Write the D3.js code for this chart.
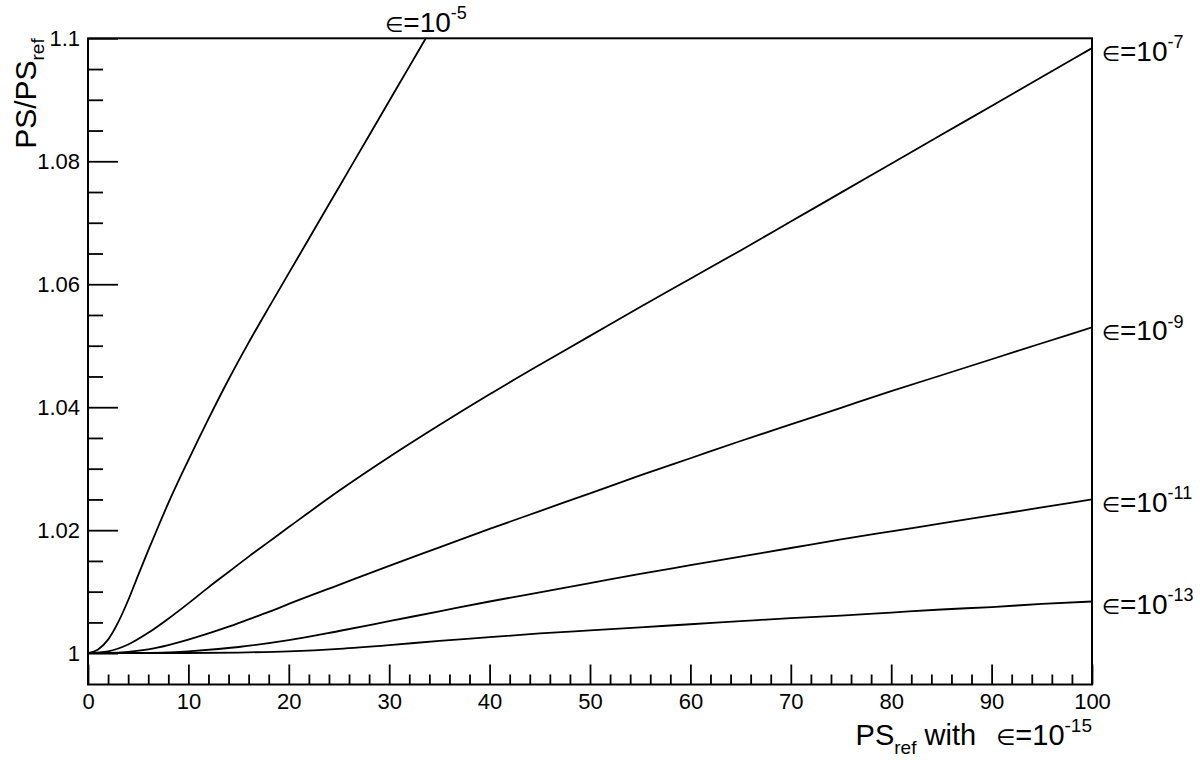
<!DOCTYPE html>
<html>
<head>
<meta charset="utf-8">
<script src="https://cdn.jsdelivr.net/npm/d3@7"></script>
<style>
  html, body { margin: 0; padding: 0; background: #fff; }
  svg { display: block; }
</style>
</head>
<body>
<svg id="chart" width="1200" height="760"></svg>
<script>
// ---- data ----
const xE5  = [0, 1, 2, 3, 4, 5, 6, 7, 8, 10, 12, 14, 16, 18, 20, 22, 24, 26, 28, 30, 32, 34];
const yE5  = [1.0000, 1.0006, 1.0022, 1.0050, 1.0086, 1.0127, 1.0167, 1.0206, 1.0244, 1.0314, 1.0381, 1.0445, 1.0505, 1.0562, 1.0618, 1.0674, 1.0730, 1.0786, 1.0842, 1.0898, 1.0954, 1.1010];

const xE7  = [0, 2, 4, 6, 8, 10, 12, 14, 16, 18, 20, 25, 30, 35, 40, 45, 50, 55, 60, 65, 70, 75, 80, 85, 90, 95, 100];
const yE7  = [1.0000, 1.0003, 1.0014, 1.0033, 1.0056, 1.0081, 1.0107, 1.0132, 1.0157, 1.0181, 1.0205, 1.0264, 1.0319, 1.0371, 1.0421, 1.0469, 1.0516, 1.0563, 1.0609, 1.0655, 1.0702, 1.0749, 1.0796, 1.0843, 1.0890, 1.0937, 1.0984];

const xE9  = [0, 2, 4, 6, 8, 10, 12, 14, 16, 18, 20, 25, 30, 35, 40, 45, 50, 55, 60, 65, 70, 75, 80, 85, 90, 95, 100];
const yE9  = [1.0000, 1.00003, 1.0002, 1.0006, 1.0013, 1.0022, 1.0032, 1.0043, 1.0055, 1.0067, 1.0080, 1.0111, 1.0142, 1.0172, 1.0202, 1.0231, 1.0260, 1.0289, 1.0317, 1.0345, 1.0372, 1.0399, 1.0426, 1.0452, 1.0478, 1.0504, 1.0530];

const xE11 = [0, 5, 10, 15, 20, 25, 30, 35, 40, 45, 50, 55, 60, 65, 70, 75, 80, 85, 90, 95, 100];
const yE11 = [1.0000, 1.00002, 1.0003, 1.0010, 1.0021, 1.0036, 1.0052, 1.0068, 1.0084, 1.0099, 1.0114, 1.0129, 1.0143, 1.0157, 1.0171, 1.0185, 1.0198, 1.0211, 1.0224, 1.0237, 1.0250];

const xE13 = [0, 10, 15, 20, 25, 30, 35, 40, 45, 50, 55, 60, 65, 70, 75, 80, 85, 90, 95, 100];
const yE13 = [1.0000, 1.00002, 1.0001, 1.0003, 1.0007, 1.0013, 1.0020, 1.0026, 1.0032, 1.0037, 1.0042, 1.0047, 1.0052, 1.0057, 1.0061, 1.0066, 1.0071, 1.0075, 1.0080, 1.0084];

const seriesExp = ["-5", "-7", "-9", "-11", "-13"];
const xTickMajor = [0, 10, 20, 30, 40, 50, 60, 70, 80, 90, 100];
const yTickMajor = [1, 1.02, 1.04, 1.06, 1.08, 1.1];
const yTickLabels = ["1", "1.02", "1.04", "1.06", "1.08", "1.1"];

// ---- layout ----
const FONT = "'Liberation Sans', Arial, Helvetica, sans-serif";
const SYM = "'DejaVu Sans', sans-serif";
const svg = d3.select("#chart");
const L = 88, R = 1092, T = 38.3, B = 684.5;

const x = d3.scaleLinear().domain([0, 100]).range([L, R]);
const y = d3.scaleLinear().domain([0.9949, 1.1]).range([B, T]);

svg.append("defs").append("clipPath").attr("id", "plotclip")
  .append("rect").attr("x", L).attr("y", T).attr("width", R - L).attr("height", B - T);

// minor ticks
const xMinor = d3.range(0, 100.01, 2).filter(v => v % 10 !== 0);
const yMinor = d3.range(0, 21).map(i => +(1 + i * 0.005).toFixed(3))
  .filter(v => Math.abs((v - 1) / 0.02 - Math.round((v - 1) / 0.02)) > 1e-6);

svg.append("g").attr("transform", `translate(0,${B})`)
  .call(d3.axisBottom(x).tickValues(xTickMajor).tickSizeInner(-20).tickSizeOuter(0).tickPadding(9).tickFormat(d3.format("d")));
svg.append("g").attr("transform", `translate(0,${B})`)
  .call(d3.axisBottom(x).tickValues(xMinor).tickSizeInner(-10).tickSizeOuter(0).tickFormat(""));

svg.append("g").attr("transform", `translate(${L},0)`)
  .call(d3.axisLeft(y).tickValues(yTickMajor).tickSizeInner(-30).tickSizeOuter(0).tickPadding(8)
    .tickFormat((d, i) => yTickLabels[i]));
svg.append("g").attr("transform", `translate(${L},0)`)
  .call(d3.axisLeft(y).tickValues(yMinor).tickSizeInner(-15).tickSizeOuter(0).tickFormat(""));

svg.selectAll(".domain").remove();
svg.selectAll(".tick line").attr("stroke", "#000").attr("stroke-width", 1.8);
svg.selectAll(".tick text").attr("font-size", 22).attr("font-family", FONT).attr("fill", "#000");

// frame
svg.append("rect").attr("x", L).attr("y", T).attr("width", R - L).attr("height", B - T)
  .attr("fill", "none").attr("stroke", "#000").attr("stroke-width", 2);

// curves
const seriesX = [xE5, xE7, xE9, xE11, xE13];
const seriesY = [yE5, yE7, yE9, yE11, yE13];
const line = d3.line().x(d => x(d[0])).y(d => y(d[1])).curve(d3.curveMonotoneX);
const plot = svg.append("g").attr("clip-path", "url(#plotclip)");
seriesX.forEach((xs, k) => {
  const pts = xs.map((v, i) => [v, seriesY[k][i]]);
  plot.append("path").attr("d", line(pts)).attr("fill", "none")
    .attr("stroke", "#000").attr("stroke-width", 1.8);
});

// curve labels
function epsLabel(px, py, exp) {
  const t = svg.append("text").attr("x", px).attr("y", py).attr("font-size", 28)
    .attr("font-family", FONT).attr("fill", "#000");
  t.append("tspan").attr("font-family", SYM).attr("font-size", 21).text("∈");
  t.append("tspan").text("=10");
  t.append("tspan").attr("dy", -12.5).attr("font-size", 18).text(exp);
}
epsLabel(385, 31.7, seriesExp[0]);
const lastY = [null, yE7[yE7.length - 1], yE9[yE9.length - 1], yE11[yE11.length - 1], yE13[yE13.length - 1]];
const labelOffset = [null, 12.5, 13, 12.3, 12.3];
for (let k = 1; k < 5; k++) {
  epsLabel(1101.7, y(lastY[k]) + labelOffset[k], seriesExp[k]);
}

// x title
const xt = svg.append("text").attr("x", R).attr("y", 745).attr("text-anchor", "end")
  .attr("font-size", 29).attr("font-family", FONT).attr("fill", "#000");
xt.append("tspan").text("PS");
xt.append("tspan").attr("dy", 9).attr("font-size", 19).text("ref");
xt.append("tspan").attr("dy", -9).text(" with ");
xt.append("tspan").attr("dx", 12).attr("font-family", SYM).attr("font-size", 22).text("∈");
xt.append("tspan").text("=10");
xt.append("tspan").attr("dy", -13).attr("font-size", 19).text("-15");

// y title
const yt = svg.append("text").attr("transform", `translate(36,${T}) rotate(-90)`)
  .attr("text-anchor", "end").attr("font-size", 30).attr("font-family", FONT).attr("fill", "#000");
yt.append("tspan").text("PS/PS");
yt.append("tspan").attr("dy", 8).attr("font-size", 19).text("ref");
</script>
</body>
</html>
